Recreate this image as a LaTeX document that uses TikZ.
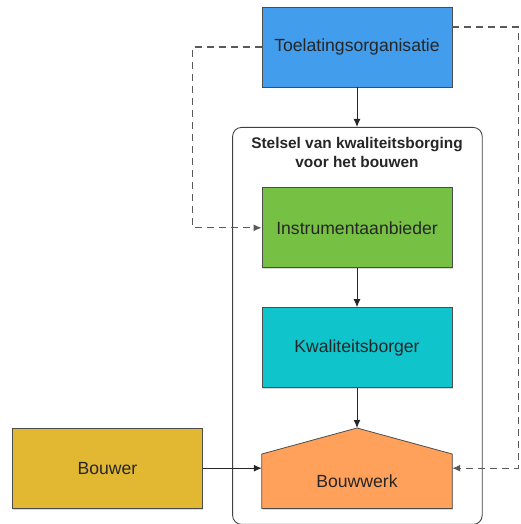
\documentclass[tikz,border=0pt]{standalone}
\usepackage{fontspec}
\setmainfont{Liberation Sans}
\usetikzlibrary{arrows.meta}
\usetikzlibrary{backgrounds}
\usetikzlibrary{fit}
\usetikzlibrary{positioning}
\usetikzlibrary{shadows}
\definecolor{toelblue}{RGB}{66,157,236}
\definecolor{instrgreen}{RGB}{118,192,67}
\definecolor{kwalcyan}{RGB}{16,196,204}
\definecolor{bouwergold}{RGB}{226,184,50}
\definecolor{bouworange}{RGB}{255,161,90}

\begin{document}
\begin{tikzpicture}[
    x=1pt, y=1pt,
    flow/.style={draw=black!85, line width=1, -{Latex[length=8, width=7]}},
    feedback/.style={flow, draw=black!65, line width=1.3, dash pattern=on 7pt off 5pt},
    boxtext/.style={rectangle, minimum width=190, minimum height=80,
        font=\fontsize{17.6}{20}\selectfont, text=black!85},
    shade/.style={drop shadow={shadow xshift=1pt, shadow yshift=-1.5pt, opacity=0.3}},
    block/.style={boxtext, draw=black!70, line width=0.8, shade},
    container/.style={draw=black!75, line width=0.9, rounded corners=9, inner sep=0},
    ]
    \useasboundingbox (0, 0) rectangle (520, -524);

    \node (toel) [block, fill=toelblue] at (357, -47) {Toelatingsorganisatie};
    \node (instr) [block, fill=instrgreen, below=100 of toel] {Instrumentaanbieder};
    \node (kwal) [block, fill=kwalcyan, below=39 of instr] {Kwaliteitsborger};
    \node (bouwwerk) [boxtext, minimum height=54, below=66 of kwal] {Bouwwerk};
    \node (bouwer) [block, fill=bouwergold, left=59 of bouwwerk, yshift=13] {Bouwer};
    \node (titel) [font=\bfseries\fontsize{15.4}{19}\selectfont, align=center,
        text=black!85] at (357, -152) {Stelsel van kwaliteitsborging\\voor het bouwen};

    \coordinate (dak) at ([yshift=26]bouwwerk.north);
    \coordinate (links) at ([xshift=-69]instr.west);
    \coordinate (rechts) at ([xshift=66]bouwwerk.east |- bouwer);

    \begin{scope}[on background layer]
        \node (stelsel) [container, fit={([xshift=-29, yshift=60]instr.north west)
            ([xshift=30, yshift=-16]bouwwerk.south east)}] {};
        \draw [draw=black!70, line width=0.8, fill=bouworange, shade]
            (bouwwerk.south west) -- (bouwwerk.north west) -- (dak)
            -- (bouwwerk.north east) -- (bouwwerk.south east) -- cycle;
    \end{scope}

    \draw [flow] (toel.south) -- (toel.south |- stelsel.north);
    \draw [flow] (instr) -- (kwal);
    \draw [flow] (kwal.south) -- (dak);
    \draw [flow] (bouwer.east) -- (bouwer -| bouwwerk.west);

    \draw [feedback] (toel.west) -| (links) -- (instr.west);
    \draw [feedback] ([yshift=20]toel.east) -| (rechts) -- (rechts -| bouwwerk.east);
\end{tikzpicture}
\end{document}
